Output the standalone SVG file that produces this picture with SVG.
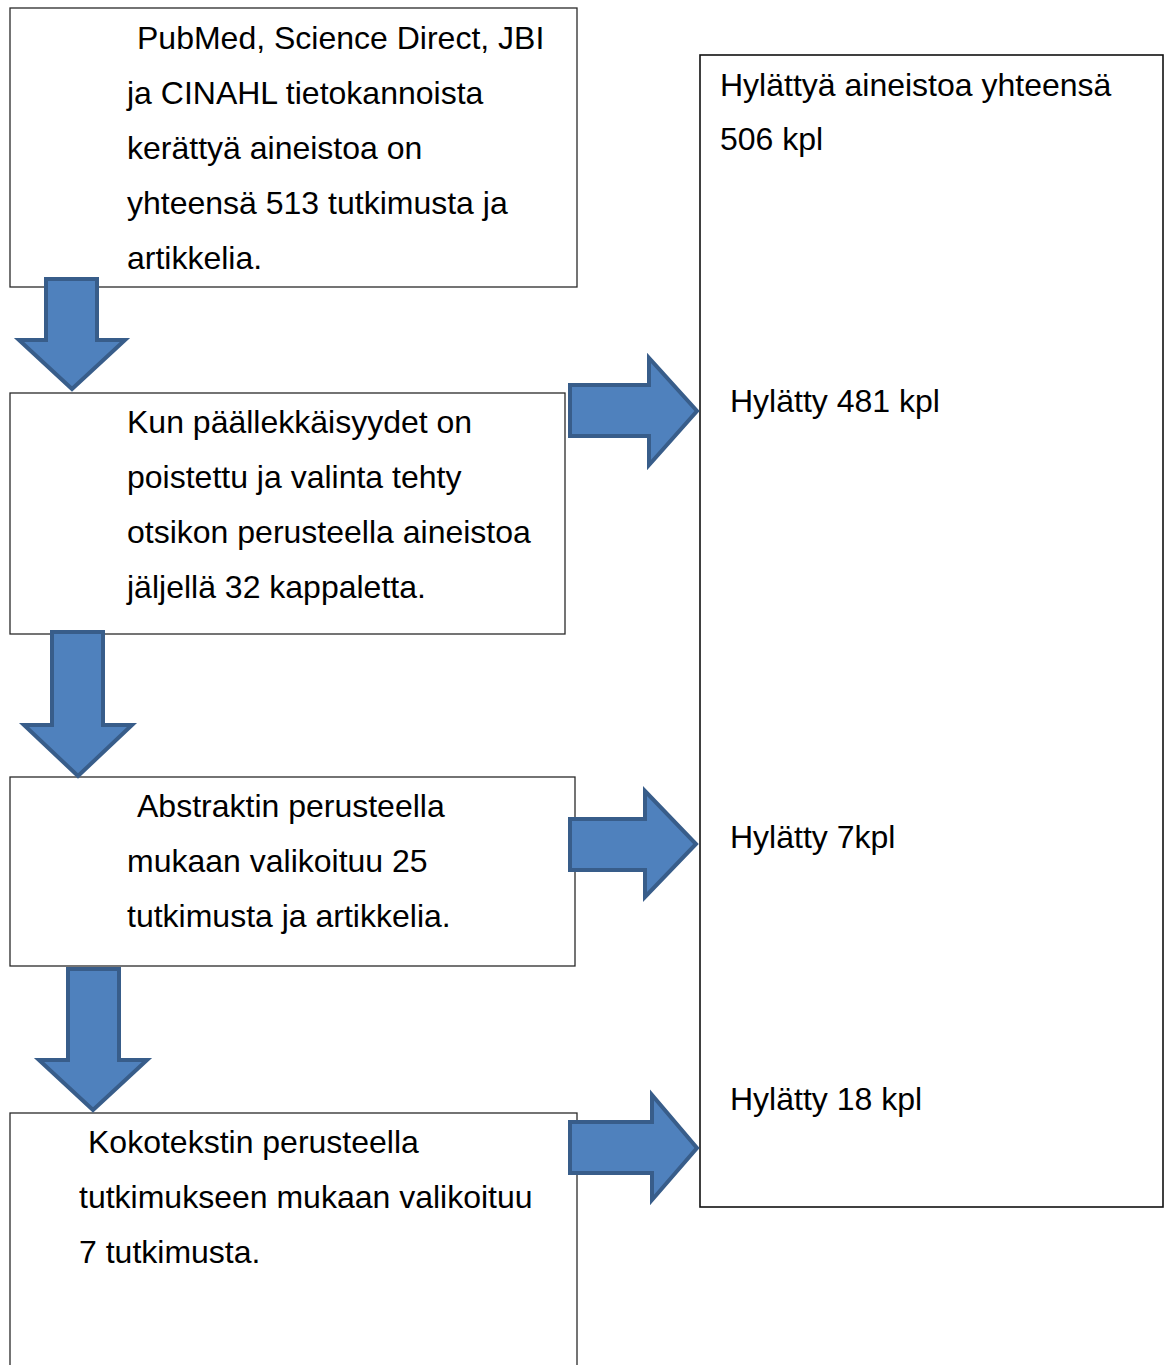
<svg xmlns="http://www.w3.org/2000/svg" width="1171" height="1365" viewBox="0 0 1171 1365">
<style>
.box{fill:#fff;stroke:#2a2a2a;stroke-width:1.3}
.rbox{fill:#fff;stroke:#111;stroke-width:1.6}
.arr{fill:#4f81bd;stroke:#385d8a;stroke-width:4;stroke-linejoin:miter}
text{font-family:"Liberation Sans",Arial,sans-serif;font-size:32px;fill:#000}
</style>
<rect width="1171" height="1365" fill="#fff"/>
<g id="node-rejected">
<rect class="rbox" x="700" y="55" width="463" height="1152"/>
<text x="720" y="96">Hylättyä aineistoa yhteensä</text>
<text x="720" y="150">506 kpl</text>
<text x="730" y="412">Hylätty 481 kpl</text>
<text x="730" y="848">Hylätty 7kpl</text>
<text x="730" y="1110">Hylätty 18 kpl</text>
</g>
<g id="node-1">
<rect class="box" x="10" y="8" width="567" height="279"/>
<text x="137" y="49">PubMed, Science Direct, JBI</text>
<text x="127" y="104">ja CINAHL tietokannoista</text>
<text x="127" y="159">kerättyä aineistoa on</text>
<text x="127" y="214">yhteensä 513 tutkimusta ja</text>
<text x="127" y="269">artikkelia.</text>
</g>
<g id="node-2">
<rect class="box" x="10" y="393" width="555" height="241"/>
<text x="127" y="433">Kun päällekkäisyydet on</text>
<text x="127" y="488">poistettu ja valinta tehty</text>
<text x="127" y="543">otsikon perusteella aineistoa</text>
<text x="127" y="598">jäljellä 32 kappaletta.</text>
</g>
<g id="node-3">
<rect class="box" x="10" y="777" width="565" height="189"/>
<text x="137" y="817">Abstraktin perusteella</text>
<text x="127" y="872">mukaan valikoituu 25</text>
<text x="127" y="927">tutkimusta ja artikkelia.</text>
</g>
<g id="node-4">
<rect class="box" x="10" y="1113" width="567" height="270"/>
<text x="88" y="1153">Kokotekstin perusteella</text>
<text x="79" y="1208">tutkimukseen mukaan valikoituu</text>
<text x="79" y="1263">7 tutkimusta.</text>
</g>
<g id="connectors">
<polygon class="arr" points="46,279 97,279 97,340 125,340 72,389 19,340 46,340"/>
<polygon class="arr" points="52,632 103,632 103,725 132,725 78,776 24,725 52,725"/>
<polygon class="arr" points="68,969 119,969 119,1060 147,1060 93,1110 39,1060 68,1060"/>
<polygon class="arr" points="570,385 649,385 649,358 697,411 649,465 649,436 570,436"/>
<polygon class="arr" points="570,819 645,819 645,791 696,844 645,897 645,870 570,870"/>
<polygon class="arr" points="570,1122 652,1122 652,1095 697,1148 652,1200 652,1173 570,1173"/>
</g>
</svg>
